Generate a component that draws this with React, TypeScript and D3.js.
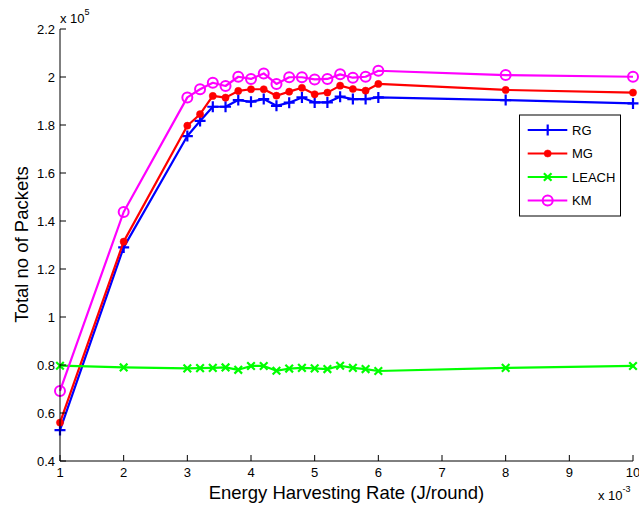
import React from "react";
import * as d3 from "d3";

const xValues = [1, 2, 3, 3.2, 3.4, 3.6, 3.8, 4.0, 4.2, 4.4, 4.6, 4.8, 5.0, 5.2, 5.4, 5.6, 5.8, 6.0, 8, 10];
const rgValues = [0.529, 1.29, 1.754, 1.817, 1.876, 1.876, 1.904, 1.897, 1.908, 1.88, 1.893, 1.915, 1.894, 1.894, 1.918, 1.908, 1.908, 1.915, 1.904, 1.89];
const mgValues = [0.56, 1.314, 1.797, 1.845, 1.921, 1.914, 1.942, 1.949, 1.949, 1.922, 1.939, 1.955, 1.928, 1.935, 1.964, 1.95, 1.943, 1.971, 1.946, 1.935];
const leachValues = [0.797, 0.79, 0.786, 0.787, 0.788, 0.79, 0.78, 0.796, 0.796, 0.776, 0.785, 0.788, 0.786, 0.783, 0.797, 0.788, 0.783, 0.775, 0.788, 0.796];
const kmValues = [0.692, 1.4375, 1.915, 1.949, 1.976, 1.9625, 2.001, 1.992, 2.015, 1.971, 1.999, 1.999, 1.99, 1.992, 2.011, 1.997, 2.001, 2.026, 2.008, 2.001];
const seriesNames = ["RG", "MG", "LEACH", "KM"];
const xTicks = [1, 2, 3, 4, 5, 6, 7, 8, 9, 10];
const yTicks = [0.4, 0.6, 0.8, 1.0, 1.2, 1.4, 1.6, 1.8, 2.0, 2.2];

const FONT = "'Liberation Sans', Arial, Helvetica, sans-serif";

type Marker = "plus" | "dot" | "x" | "circle";

function MarkerShape({ kind, x, y, color }: { kind: Marker; x: number; y: number; color: string }) {
  if (kind === "plus") {
    const s = 5.5;
    return (
      <path d={`M${x - s},${y}H${x + s}M${x},${y - s}V${y + s}`} stroke={color} strokeWidth={2.2} fill="none" />
    );
  }
  if (kind === "dot") {
    return <circle cx={x} cy={y} r={3.6} fill={color} stroke={color} strokeWidth={0.5} />;
  }
  if (kind === "x") {
    const s = 3.8;
    return (
      <path
        d={`M${x - s},${y - s}L${x + s},${y + s}M${x - s},${y + s}L${x + s},${y - s}`}
        stroke={color}
        strokeWidth={2.2}
        fill="none"
      />
    );
  }
  return <circle cx={x} cy={y} r={5} fill="none" stroke={color} strokeWidth={2} />;
}

export default function App() {
  const W = 639;
  const H = 508;
  const x = d3.scaleLinear().domain([1, 10]).range([60, 633]);
  const y = d3.scaleLinear().domain([0.4, 2.2]).range([461, 29]);

  const series = [
    { name: seriesNames[0], values: rgValues, color: "#0000ff", marker: "plus" as Marker },
    { name: seriesNames[1], values: mgValues, color: "#ff0000", marker: "dot" as Marker },
    { name: seriesNames[2], values: leachValues, color: "#00ff00", marker: "x" as Marker },
    { name: seriesNames[3], values: kmValues, color: "#ff00ff", marker: "circle" as Marker },
  ];

  const line = d3
    .line<number>()
    .x((_, i) => x(xValues[i]))
    .y((d) => y(d));

  const fmt = (v: number) => d3.format("~g")(+v.toFixed(1));

  const legX = 519.5;
  const legY = 115;
  const legW = 101;
  const legH = 101;

  return (
    <svg
      width={W}
      height={H}
      style={{ position: "absolute", left: 0, top: 0, background: "#fff" }}
      fontFamily={FONT}
    >
      <rect x={0} y={0} width={W} height={H} fill="#fff" />
      {/* series */}
      {series.map((s) => (
        <g key={s.name}>
          <path d={line(s.values) || ""} fill="none" stroke={s.color} strokeWidth={2.2} strokeLinejoin="round" />
          {s.values.map((v, i) => (
            <MarkerShape key={i} kind={s.marker} x={x(xValues[i])} y={y(v)} color={s.color} />
          ))}
        </g>
      ))}
      {/* axes */}
      <line x1={60} x2={60} y1={29} y2={461} stroke="#000" strokeWidth={1} />
      <line x1={60} x2={633} y1={461} y2={461} stroke="#000" strokeWidth={1} />
      {yTicks.map((t) => (
        <g key={"y" + t}>
          <line x1={60} x2={66} y1={y(t)} y2={y(t)} stroke="#000" strokeWidth={1} />
          <text x={55} y={y(t) + 4.5} textAnchor="end" fontSize={13} fill="#000">
            {fmt(t)}
          </text>
        </g>
      ))}
      {xTicks.map((t) => (
        <g key={"x" + t}>
          <line x1={x(t)} x2={x(t)} y1={461} y2={455} stroke="#000" strokeWidth={1} />
          <text x={x(t)} y={477} textAnchor="middle" fontSize={13} fill="#000">
            {t}
          </text>
        </g>
      ))}
      {/* exponent labels */}
      <text x={60} y={23} fontSize={13} fill="#000">
        x 10
        <tspan dy={-8} fontSize={9}>
          5
        </tspan>
      </text>
      <text x={598} y={500} fontSize={13} fill="#000">
        x 10
        <tspan dy={-8} fontSize={9}>
          -3
        </tspan>
      </text>
      {/* axis titles */}
      <text x={346.5} y={499} textAnchor="middle" fontSize={18.5} fill="#000">
        Energy Harvesting Rate (J/round)
      </text>
      <text
        transform={`translate(28.3,244.5) rotate(-90)`}
        textAnchor="middle"
        fontSize={18.5}
        fill="#000"
      >
        Total no of Packets
      </text>
      {/* legend */}
      <rect x={legX} y={legY} width={legW} height={legH} fill="#fff" stroke="#000" strokeWidth={1} />
      {series.map((s, i) => {
        const cy = 130 + i * 23.5;
        return (
          <g key={"leg" + s.name}>
            <line x1={527.7} x2={567.3} y1={cy} y2={cy} stroke={s.color} strokeWidth={2.2} />
            <MarkerShape kind={s.marker} x={547.7} y={cy} color={s.color} />
            <text x={572} y={cy + 4.7} fontSize={13} fill="#000">
              {s.name}
            </text>
          </g>
        );
      })}
    </svg>
  );
}
